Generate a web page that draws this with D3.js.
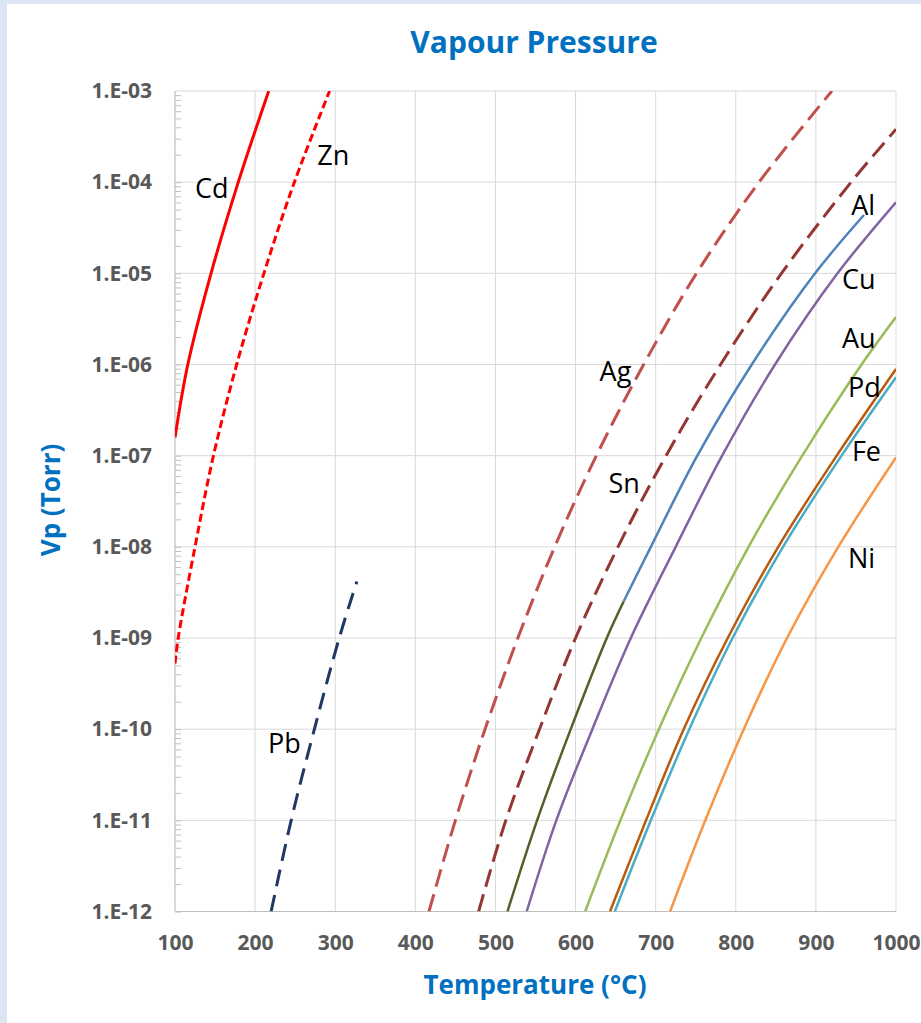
<!DOCTYPE html>
<html>
<head>
<meta charset="utf-8">
<script src="https://cdn.jsdelivr.net/npm/d3@7"></script>
<style>
	body { margin: 0; background: #fff; }
	svg text { font-family: "Open Sans", "Noto Sans", sans-serif; }
	.tick text { font-weight: 700; fill: #595959; font-size: 21px; }
	.blueTitle { font-weight: 700; fill: #0070C0; }
	.metal { font-size: 27px; fill: #000; }
</style>
</head>
<body>
<svg width="921" height="1023"></svg>
<script>
// temperature in degC, vapour pressure as log10(Torr)
var cdT = [100, 116, 145, 179, 217];
var cdP = [-6.8, -6, -5, -4, -3];
var znT = [100, 104, 125, 148, 177, 211, 249, 293];
var znP = [-9.28, -9, -8, -7, -6, -5, -4, -3];
var pbT = [220, 245, 274, 305, 327];
var pbP = [-12, -11, -10, -9, -8.38];
var agT = [417, 450, 487, 528, 574, 626, 685, 751, 829, 920];
var agP = [-12, -11, -10, -9, -8, -7, -6, -5, -4, -3];
var snT = [479, 513, 555, 600, 653, 713, 781, 857, 944, 1000];
var snP = [-12, -11, -10, -9, -8, -7, -6, -5, -4, -3.42];
var alSolidT = [515, 552, 594, 639, 660];
var alSolidP = [-12, -11, -10, -9, -8.6];
var alLiquidT = [660, 694, 752, 820, 899, 960];
var alLiquidP = [-8.6, -8, -7, -6, -5, -4.36];
var cuT = [539, 576, 621, 669, 725, 783, 849, 927, 1000];
var cuP = [-12, -11, -10, -9, -8, -7, -6, -5, -4.22];
var auT = [612, 656, 704, 757, 816, 883, 957, 1000];
var auP = [-12, -11, -10, -9, -8, -7, -6, -5.48];
var pdT = [643, 688, 735, 790, 853, 926, 1000];
var pdP = [-12, -11, -10, -9, -8, -7, -6.05];
var feT = [649, 694, 742, 796, 859, 932, 1000];
var feP = [-12, -11, -10, -9, -8, -7, -6.14];
var niT = [718, 762, 810, 864, 928, 1000];
var niP = [-12, -11, -10, -9, -8, -7.02];

var xTicks = [100, 200, 300, 400, 500, 600, 700, 800, 900, 1000];
var yExponents = [-3, -4, -5, -6, -7, -8, -9, -10, -11, -12];

// label anchors in data units: name, temperature, log10(P)
var labelNames = ["Cd", "Zn", "Ag", "Sn", "Pb", "Al", "Cu", "Au", "Pd", "Fe", "Ni"];
var labelT = [125, 277.5, 630, 641, 216, 944, 932.5, 932.5, 940, 945, 940];
var labelP = [-4.175, -3.812, -6.183, -7.413, -10.256, -4.361, -5.173, -5.821, -6.359, -7.061, -8.236];

var series = [
	{name: "Cd", t: cdT, p: cdP, color: "#FF0000", dash: null, w: 3},
	{name: "Zn", t: znT, p: znP, color: "#FF0000", dash: "8,4", w: 3},
	{name: "Pb", t: pbT, p: pbP, color: "#1F3864", dash: "17,9", w: 3},
	{name: "Ag", t: agT, p: agP, color: "#C0504D", dash: "18,8", w: 3},
	{name: "Sn", t: snT, p: snP, color: "#943634", dash: "18,8", w: 3},
	{name: "Al solid", t: alSolidT, p: alSolidP, color: "#4F6228", dash: null, w: 2.5},
	{name: "Al liquid", t: alLiquidT, p: alLiquidP, color: "#4F81BD", dash: null, w: 2.5},
	{name: "Cu", t: cuT, p: cuP, color: "#8064A2", dash: null, w: 2.5},
	{name: "Au", t: auT, p: auP, color: "#9BBB59", dash: null, w: 2.5},
	{name: "Pd", t: pdT, p: pdP, color: "#B95A0C", dash: null, w: 2.5},
	{name: "Fe", t: feT, p: feP, color: "#4BACC6", dash: null, w: 2.5},
	{name: "Ni", t: niT, p: niP, color: "#F79646", dash: null, w: 2.5}
];

var plotLeft = 175, plotRight = 896, plotTop = 91, plotBottom = 911.5;

var svg = d3.select("svg");

// frame strips of the screenshot
svg.append("rect").attr("x", 0).attr("y", 0).attr("width", 7).attr("height", 1023).attr("fill", "#DCE6F2");
svg.append("rect").attr("x", 0).attr("y", 0).attr("width", 921).attr("height", 4).attr("fill", "#DCE6F2");

var x = d3.scaleLinear().domain([100, 1000]).range([plotLeft, plotRight]);
var y = d3.scaleLog().domain([1e-12, 1e-3]).range([plotBottom, plotTop]);

function pow10(e) { return Math.pow(10, e); }
function fmtExp(v) {
	var e = Math.round(Math.log10(v));
	var a = Math.abs(e);
	return "1.E" + (e < 0 ? "-" : "+") + (a < 10 ? "0" + a : a);
}

// grid
var grid = svg.append("g").attr("class", "grid");
grid.selectAll("line.v").data(xTicks.slice(1)).enter().append("line").attr("class", "v")
	.attr("x1", function(d) { return x(d); }).attr("x2", function(d) { return x(d); })
	.attr("y1", plotTop).attr("y2", plotBottom)
	.attr("stroke", "#D9D9D9").attr("stroke-width", 1);
grid.selectAll("line.h").data(yExponents.slice(0, -1)).enter().append("line").attr("class", "h")
	.attr("x1", plotLeft).attr("x2", plotRight)
	.attr("y1", function(d) { return y(pow10(d)); }).attr("y2", function(d) { return y(pow10(d)); })
	.attr("stroke", "#D9D9D9").attr("stroke-width", 1);

// minor ticks inside the left axis
var minor = [];
yExponents.slice(1).forEach(function(e) {
	for (var k = 1; k < 10; k++) { minor.push(k * pow10(e)); }
});
var minorAxis = svg.append("g").attr("transform", "translate(" + plotLeft + ",0)")
	.call(d3.axisRight(y).tickValues(minor).tickSize(6).tickFormat(""));
minorAxis.select(".domain").remove();
minorAxis.selectAll(".tick line").attr("stroke", "#BFBFBF");

// y axis labels
var yAxis = svg.append("g").attr("transform", "translate(" + plotLeft + ",0)")
	.call(d3.axisLeft(y).tickValues(yExponents.map(pow10)).tickFormat(fmtExp).tickSize(0).tickPadding(23));
yAxis.select(".domain").remove();

// x axis labels
var xAxis = svg.append("g").attr("transform", "translate(0," + plotBottom + ")")
	.call(d3.axisBottom(x).tickValues(xTicks).tickFormat(d3.format("d")).tickSize(0).tickPadding(24));
xAxis.select(".domain").remove();

// axis lines
svg.append("line").attr("x1", plotLeft).attr("x2", plotLeft).attr("y1", plotTop).attr("y2", plotBottom)
	.attr("stroke", "#BFBFBF").attr("stroke-width", 1.2);
svg.append("line").attr("x1", plotLeft).attr("x2", plotRight).attr("y1", plotBottom).attr("y2", plotBottom)
	.attr("stroke", "#BFBFBF").attr("stroke-width", 1.2);

// curves
svg.append("clipPath").attr("id", "plotClip").append("rect")
	.attr("x", plotLeft).attr("y", plotTop).attr("width", plotRight - plotLeft).attr("height", plotBottom - plotTop);

var line = d3.line()
	.x(function(d) { return x(d[0]); })
	.y(function(d) { return y(pow10(d[1])); })
	.curve(d3.curveCatmullRom.alpha(0.5));

var curves = svg.append("g").attr("clip-path", "url(#plotClip)");
series.forEach(function(s) {
	var pts = s.t.map(function(t, i) { return [t, s.p[i]]; });
	curves.append("path").datum(pts)
		.attr("d", line)
		.attr("fill", "none")
		.attr("stroke", s.color)
		.attr("stroke-width", s.w)
		.attr("stroke-dasharray", s.dash);
});

// metal labels
svg.append("g").selectAll("text").data(labelNames).enter().append("text")
	.attr("class", "metal")
	.attr("x", function(d, i) { return x(labelT[i]); })
	.attr("y", function(d, i) { return y(pow10(labelP[i])); })
	.text(function(d) { return d; });

// titles
svg.append("text").attr("class", "blueTitle").attr("x", 534).attr("y", 53)
	.attr("text-anchor", "middle").attr("font-size", 30).text("Vapour Pressure");
svg.append("text").attr("class", "blueTitle").attr("x", 535).attr("y", 994)
	.attr("text-anchor", "middle").attr("font-size", 26).text("Temperature (\u00B0C)");
svg.append("text").attr("class", "blueTitle")
	.attr("transform", "translate(60,500) rotate(-90)")
	.attr("text-anchor", "middle").attr("font-size", 26).text("Vp (Torr)");
</script>
</body>
</html>
